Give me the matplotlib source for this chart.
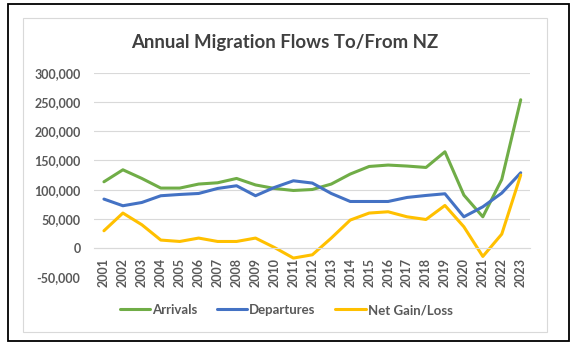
import matplotlib
matplotlib.use('Agg')
import matplotlib.pyplot as plt
from matplotlib.patches import Rectangle
from matplotlib.ticker import FuncFormatter

plt.rcParams['font.family'] = ['Lato', 'DejaVu Sans']
plt.rcParams['font.weight'] = 'bold'

# data
years = [str(y) for y in range(2001, 2024)]
arrivals = [113400, 133900, 119100, 102600, 102600, 109500, 111700, 119100,
            108000, 102000, 98500, 100200, 109500, 126600, 139600, 142000,
            140300, 137900, 164700, 90600, 53500, 117400, 253700]
departures = [83800, 72400, 78000, 89500, 91700, 93400, 102000, 106600,
              89500, 103700, 115100, 111200, 93400, 79700, 79700, 79700,
              86600, 90000, 92900, 53500, 70600, 94100, 128800]
net = [29600, 59900, 39900, 13700, 11300, 17100, 11300, 11300,
       17100, 1000, -17100, -11500, 17100, 47900, 59900, 62100,
       53500, 48900, 72900, 36400, -14300, 23900, 124900]

txt = '#595959'

fig = plt.figure(figsize=(5.85, 3.52), dpi=100)
ax = fig.add_axes([0.1615, 0.2122, 0.7448, 0.5813])

x = list(range(len(years)))
ax.plot(x, arrivals, color='#70AD47', lw=2.2, label='Arrivals', solid_capstyle='round')
ax.plot(x, departures, color='#4472C4', lw=2.2, label='Departures', solid_capstyle='round')
ax.plot(x, net, color='#FFC000', lw=2.2, label='Net Gain/Loss', solid_capstyle='round')

ax.set_xlim(-0.5, len(years) - 0.5)
ax.set_ylim(-50000, 300000)
ax.set_yticks(range(-50000, 300001, 50000))
ax.yaxis.set_major_formatter(FuncFormatter(lambda v, p: f'{int(v):,}'))
ax.set_xticks(x)
ax.set_xticklabels(years)
ax.grid(axis='y', color='#D9D9D9', lw=0.8)
ax.set_axisbelow(True)
for s in ['top', 'right', 'left']:
    ax.spines[s].set_visible(False)
ax.spines['bottom'].set_position(('data', 0))
ax.spines['bottom'].set_color('#D9D9D9')
ax.spines['bottom'].set_linewidth(0.8)
ax.tick_params(axis='both', length=0, labelsize=9, labelcolor=txt)
ax.tick_params(axis='x', pad=7, labelrotation=90)
ax.tick_params(axis='y', pad=10)

fig.text(0.4863, 0.878, 'Annual Migration Flows To/From NZ', ha='center', va='center',
         fontsize=13.4, color='#404040', fontweight='bold')

leg = fig.legend(loc='center', bbox_to_anchor=(0.489, 0.119), ncol=3, frameon=False,
                 handlelength=2.3, handletextpad=0.15, columnspacing=1.5,
                 prop={'size': 9.5, 'weight': 'bold'})
for t in leg.get_texts():
    t.set_color(txt)

# chart area border and outer frame
fig.patches.append(Rectangle((0.0398, 0.056), 0.8947, 0.892, transform=fig.transFigure,
                             fill=False, edgecolor='#D9D9D9', lw=0.8))
fig.patches.append(Rectangle((0.01368, 0.03125), 0.959, 0.9574, transform=fig.transFigure,
                             fill=False, edgecolor='black', lw=1.3))

fig.savefig('out.png', dpi=100)
